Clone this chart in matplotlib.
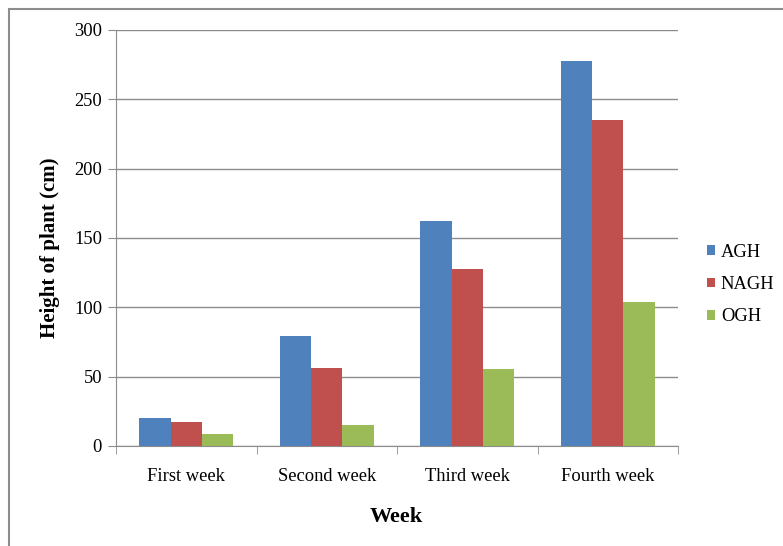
import matplotlib.pyplot as plt
from matplotlib.patches import Rectangle
import numpy as np

weeks = ['First week', 'Second week', 'Third week', 'Fourth week']
agh = [20, 79, 162, 278]
nagh = [17.5, 56, 128, 235]
ogh = [9, 15.5, 55.5, 104]
series = ['AGH', 'NAGH', 'OGH']
colors = ['#4F81BD', '#C0504D', '#9BBB59']

plt.rcParams['font.family'] = ['Liberation Serif', 'DejaVu Serif']

fig = plt.figure(figsize=(7.83, 5.46), dpi=100)
ax = fig.add_axes([116/783, 1 - 446/546, 562/783, 416/546])

# outer chart border (cut off at right and bottom)
fig.patches.append(Rectangle((9/783, -0.1), 1.1, 1.1 - 9.5/546, transform=fig.transFigure,
                             fill=False, edgecolor='#8c8c8c', linewidth=1.5))

x = np.arange(len(weeks))
w = 1/4.5
for i, (vals, name) in enumerate(zip([agh, nagh, ogh], series)):
    ax.bar(x + (i - 1)*w, vals, w, color=colors[i], label=name, zorder=3)

ax.set_xlim(-0.5, 3.5)
ax.set_ylim(0, 300)
ax.set_yticks(range(0, 301, 50))
ax.grid(axis='y', color='#8c8c8c', linewidth=1, zorder=0)
ax.set_xticks(x)
ax.set_xticklabels(weeks, fontsize=13.3)
ax.set_xticks(np.arange(-0.5, 4, 1), minor=True)
ax.tick_params(axis='x', which='major', length=0, pad=16)
ax.tick_params(axis='x', which='minor', length=6, color='#8c8c8c', direction='out')
ax.tick_params(axis='y', length=6, color='#8c8c8c', labelsize=13.3, pad=4)

for s in ['top', 'right']:
    ax.spines[s].set_visible(False)
for s in ['left', 'bottom']:
    ax.spines[s].set_color('#8c8c8c')

ax.set_xlabel('Week', fontsize=16, fontweight='bold', va='center')
ax.set_ylabel('Height of plant (cm)', fontsize=15, fontweight='bold', va='center')
ax.xaxis.set_label_coords((396 - 116)/562, (446 - 517)/416)
ax.yaxis.set_label_coords((50 - 116)/562, (446 - 248)/416)

ax.legend(loc='center left', bbox_to_anchor=(1.022, 0.388), frameon=False, fontsize=13.3,
          handlelength=0.45, handleheight=0.45, handletextpad=0.3, labelspacing=0.83)

fig.savefig('out.png', dpi=100)
